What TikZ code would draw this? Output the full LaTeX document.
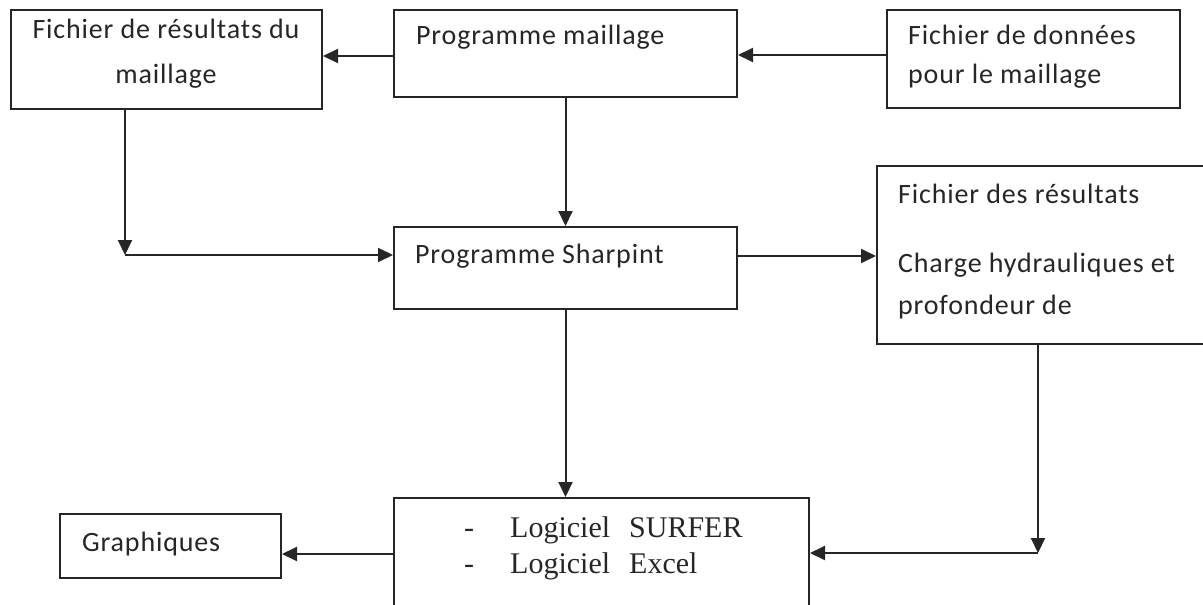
\documentclass[tikz,border=0pt]{standalone}
\usepackage{fontspec}
\setmainfont{Liberation Serif}
\newfontfamily\calfont[LetterSpace=3]{Carlito}
\usetikzlibrary{arrows.meta}
\begin{document}
\begin{tikzpicture}[x=1pt,y=-1pt,
  box/.style={draw=black!85, line width=2pt, anchor=north west, inner sep=0pt},
  lbl/.style={font=\calfont\fontsize{28}{34}\selectfont, text=black!85, inner sep=0pt, anchor=base west},
  lblc/.style={lbl, anchor=base},
  slbl/.style={font=\fontsize{30}{36}\selectfont, text=black!85, inner sep=0pt, anchor=base west},
  arr/.style={line width=2pt, draw=black!85, -{Triangle[length=15pt,width=14pt]}}]
\useasboundingbox (0,0) rectangle (1203,605);
\clip (0,0) rectangle (1203,605);
% boxes
\node[box, minimum width=311pt, minimum height=99pt] (A) at (10,9) {};
\node[box, minimum width=343pt, minimum height=87pt] (B) at (393,9) {};
\node[box, minimum width=293pt, minimum height=98pt] (C) at (886,9) {};
\node[box, minimum width=343pt, minimum height=82pt] (D) at (393,226) {};
\node[box, minimum width=340pt, minimum height=178pt] (E) at (876,165) {};
\node[box, minimum width=415pt, minimum height=130pt] (F) at (393,497) {};
\node[box, minimum width=221pt, minimum height=64pt] (G) at (59,513) {};
% texts
\node[lblc] (tA1) at (166,38) {Fichier de résultats du};
\node[lblc] (tA2) at (166,83) {maillage};
\node[lbl] (tB) at (416,44) {Programme maillage};
\node[lbl] (tC1) at (908,45) {Fichier de données};
\node[lbl] (tC2) at (908,83) {pour le maillage};
\node[lbl] (tD) at (415,263) {Programme Sharpint};
\node[lbl] (tE1) at (898,203) {Fichier des résultats};
\node[lbl] (tE2) at (898,272) {Charge hydrauliques et};
\node[lbl] (tE3) at (898,314) {profondeur de};
\node[lbl] (tG) at (82,551) {Graphiques};
\node[slbl, anchor=base] (dF1) at (469,537) {-};
\node[slbl] (tF1) at (510,537) {Logiciel\hspace{19pt}SURFER};
\node[slbl, anchor=base] (dF2) at (469,573) {-};
\node[slbl] (tF2) at (510,573) {Logiciel\hspace{19pt}Excel};
% connectors
\coordinate (k1) at (125,255);
\coordinate (k2) at (1038,553);
\draw[arr] (B.west|-0,56) -- (A.east|-0,56);
\draw[arr] (C.west|-0,55) -- (B.east|-0,55);
\draw[arr] (B.south) -- (D.north);
\draw[arr] (A.south-|k1) -- (k1);
\draw[arr] (k1) -- (D.west|-k1);
\draw[arr] (D.east|-0,256) -- (E.west|-0,256);
\draw[arr] (D.south) -- (D.south|-F.north);
\draw[arr] (E.south-|k2) -- (k2);
\draw[arr] (k2) -- (F.east|-k2);
\draw[arr] (F.west|-0,554) -- (G.east|-0,554);
\end{tikzpicture}
\end{document}
